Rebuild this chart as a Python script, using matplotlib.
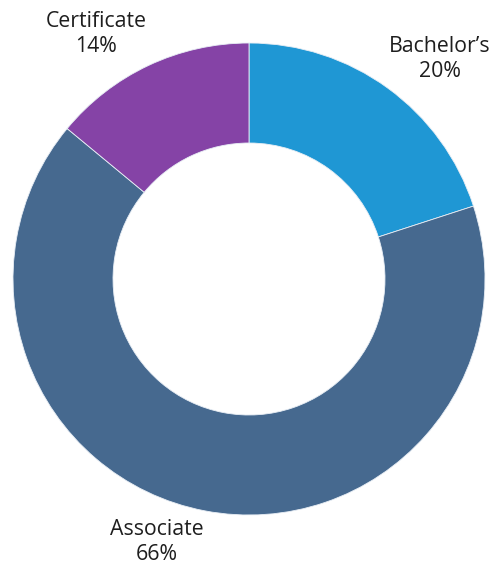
import matplotlib
matplotlib.use("Agg")
import matplotlib.pyplot as plt

# Share of credentials by type
categories = ["Bachelor\u2019s", "Associate", "Certificate"]
shares = [20, 66, 14]
colors = ["#1f97d4", "#46698f", "#8543a6"]

# label anchor points in pixel space (x, y from top)
label_pos = [(440, 59), (157, 542), (96, 34)]

W, H = 493, 566
fig = plt.figure(figsize=(W / 100, H / 100), dpi=100)
ax = fig.add_axes([0, 0, 1, 1])

cx, cy, r_out, r_in = 249, H - 279, 236, 136
ax.pie(shares, colors=colors, startangle=90, counterclock=False,
       center=(cx, cy), radius=r_out, frame=True,
       wedgeprops=dict(width=r_out - r_in, linewidth=0.6, edgecolor="#e8eef5"))
ax.set_xlim(0, W)
ax.set_ylim(0, H)
ax.set_aspect("equal")
ax.axis("off")

for name, val, (lx, ly) in zip(categories, shares, label_pos):
    ax.text(lx, H - ly, f"{name}\n{val}%", ha="center", va="center",
            fontsize=15.3, family="Open Sans", color="#1e1e1e", linespacing=1.22)

fig.savefig("out.png", dpi=100)
